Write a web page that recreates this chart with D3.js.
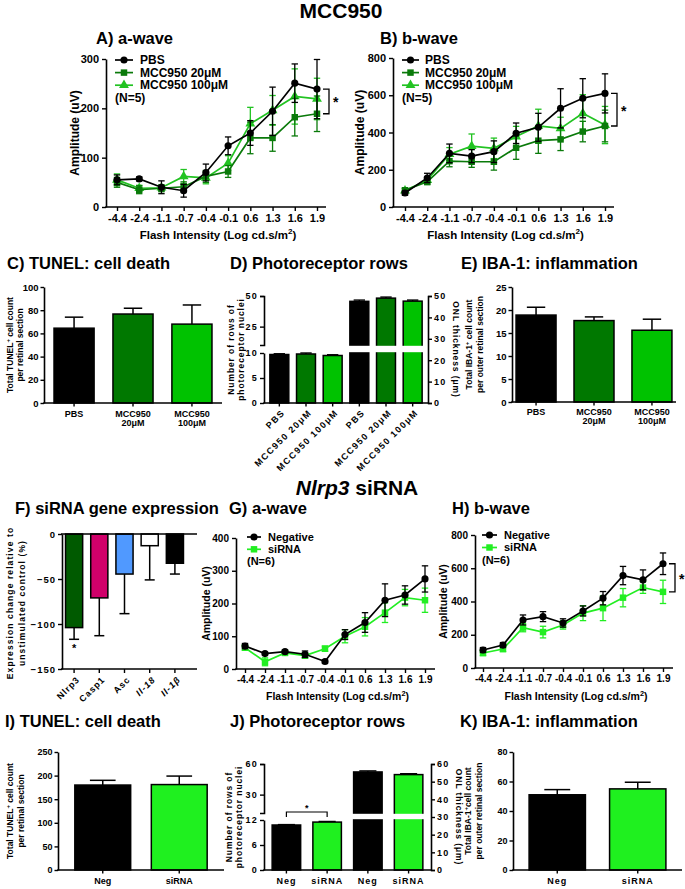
<!DOCTYPE html>
<html><head><meta charset="utf-8">
<script src="https://cdn.jsdelivr.net/npm/d3@7"></script>
<style>
body{margin:0;background:#fff;}
svg{display:block;font-family:"Liberation Sans",Arial,Helvetica,sans-serif;}
</style></head><body>
<svg id="c" width="685" height="889"></svg>
<script>
// ---------------- DATA ----------------
const intensities = ["-4.4","-2.4","-1.1","-0.7","-0.4","-0.1","0.6","1.3","1.6","1.9"];
// A) a-wave (MCC950)
const aPBS = [55,57,40,33,70,124,150,194,251,239];
const aPBSErr = [10,4,13,13,17,18,25,49,39,60];
const aM20 = [50,35,38,41,62,72,140,140,182,189];
const aM20Err = [10,8,7,10,12,12,32,27,38,36];
const aM100 = [55,38,39,62,59,89,169,196,224,219];
const aM100Err = [12,6,5,14,12,15,33,30,56,42];
const aTicks = [0,100,200,300];
// B) b-wave (MCC950)
const bPBS = [75,156,288,273,297,396,428,530,584,610];
const bPBSErr = [12,25,50,35,58,55,75,105,105,105];
const bM20 = [90,135,246,243,243,318,356,363,405,435];
const bM20Err = [10,15,30,30,45,62,68,60,55,85];
const bM100 = [88,144,284,327,315,378,435,422,503,440];
const bM100Err = [10,15,35,65,55,55,90,60,100,100];
const bTicks = [0,200,400,600,800];
// C) TUNEL
const mccCats = ["PBS","MCC950\n20\u03bcM","MCC950\n100\u03bcM"];
const tunelVals = [64.5,76.7,68];
const tunelErr = [9.5,5,16.5];
const tunelTicks = [0,20,40,60,80,100];
// D) Photoreceptor rows
const dCats = ["PBS","MCC950 20\u03bcM","MCC950 100\u03bcM","PBS","MCC950 20\u03bcM","MCC950 100\u03bcM"];
const rowsVals = [9.7,9.8,9.5];
const rowsErr = [0.15,0.2,0.15];
const onlVals = [47.5,49,47.6];
const onlErr = [0.6,0.5,0.5];
const dTopTicks = [25,50];
const dBotTicks = [0,5,10];
const dRightTicks = [0,10,20,30,40,50];
// E) IBA-1
const ibaVals = [18.9,17.7,15.6];
const ibaErr = [1.7,0.8,2.4];
const ibaTicks = [0,5,10,15,20,25];
// F) siRNA gene expression
const genes = ["Nlrp3","Casp1","Asc","Il-18","Il-1\u03b2"];
const geneVals = [-104,-71,-44.5,-13,-32.5];
const geneErr = [13,42,44,38,12];
const geneTicks = [0,-50,-100,-150];
// G) a-wave (siRNA)
const gNeg = [70,47,53,45,23,105,142,210,226,275];
const gNegErr = [8,4,5,10,5,15,30,50,28,40];
const gSi = [65,22,49,41,62,100,129,172,218,210];
const gSiErr = [8,12,6,8,8,20,28,30,25,37];
const gTicks = [0,100,200,300,400];
// H) b-wave (siRNA)
const hNeg = [108,138,289,309,271,343,420,556,530,627];
const hNegErr = [15,15,30,30,25,30,40,55,60,65];
const hSi = [90,114,243,216,259,330,360,423,484,458];
const hSiErr = [15,15,25,35,25,45,75,55,35,70];
const hTicks = [0,200,400,600,800];
// I) TUNEL (siRNA)
const sirCats = ["Neg","siRNA"];
const iVals = [180,181];
const iErr = [10,18];
const iTicks = [0,50,100,150,200,250];
// J) Photoreceptor rows (siRNA)
const jCats = ["Neg","siRNA","Neg","siRNA"];
const jRows = [10.8,11.5];
const jRowsErr = [0.1,0.15];
const jOnl = [55.5,54];
const jOnlErr = [0.6,0.5];
const jTopTicks = [30,60];
const jBotTicks = [0,6,12];
const jRightTicks = [0,10,20,30,40,50,60];
// K) IBA-1 (siRNA)
const kVals = [51,55];
const kErr = [3.5,4.5];
const kTicks = [0,20,40,60,80];

// ---------------- COLOURS ----------------
const cBlack = "#000000", cDark = "#0a7a0a", cLight = "#22c322", cSi = "#22ee22";
const cDarkBar = "#007800", cLightBar = "#00c200", cSiBar = "#1ff01f";
const geneColors = ["#005a00","#d0006a","#5099ff","#ffffff","#000000"];

// ---------------- HELPERS ----------------
const svg = d3.select("#c");
function txt(g, x, y, s, fs, o = {}) {
  const t = g.append("text").style("font-size", fs + "px")
    .style("font-weight", o.weight || "bold").attr("text-anchor", o.anchor || "start").attr("fill", "#000");
  if (o.rot != null) t.attr("transform", `translate(${x},${y}) rotate(${o.rot})`);
  else t.attr("x", x).attr("y", y);
  if (o.ls) t.style("letter-spacing", o.ls + "px");
  if (o.italic) t.style("font-style", "italic");
  if (o.dy) t.attr("dy", o.dy);
  t.text(s);
  return t;
}
function sup(t, s, fs) {
  t.append("tspan").attr("dy", -fs * 0.4).style("font-size", (fs * 0.7) + "px").text(s);
}
function styleAxis(sel, fs, ls) {
  sel.selectAll("path.domain").attr("stroke", "#000").attr("stroke-width", 1.6);
  sel.selectAll(".tick line").attr("stroke", "#000").attr("stroke-width", 1.4);
  sel.selectAll(".tick text").attr("fill", "#000").style("font-size", fs + "px")
    .style("font-weight", "bold").style("font-family", "'Liberation Sans',Arial,sans-serif")
    .style("letter-spacing", (ls || 0) + "px");
}
function hline(g, x1, x2, y, w) {
  g.append("line").attr("x1", x1).attr("x2", x2).attr("y1", y).attr("y2", y).attr("stroke", "#000").attr("stroke-width", w || 1.6);
}
function vline(g, x, y1, y2, w, col) {
  g.append("line").attr("x1", x).attr("x2", x).attr("y1", y1).attr("y2", y2).attr("stroke", col || "#000").attr("stroke-width", w || 1.6);
}
const symType = { circle: d3.symbolCircle, square: d3.symbolSquare, triangle: d3.symbolTriangle };
const symSize = { circle: 40, square: 42, triangle: 42 };

function linePanel(o) {
  const g = svg.append("g");
  const x = d3.scalePoint().domain(intensities).range([o.cat0, o.cat1]);
  const y = d3.scaleLinear().domain([0, o.yMax]).range([o.yBot, o.yTop]);
  const ya = g.append("g").attr("transform", `translate(${o.axisX},0)`)
    .call(d3.axisLeft(y).tickValues(o.yTicks).tickSize(4).tickSizeOuter(0).tickPadding(3));
  styleAxis(ya, o.fs);
  const xa = g.append("g").attr("transform", `translate(0,${o.yBot})`)
    .call(d3.axisBottom(x).tickSize(4).tickPadding(3));
  xa.select("path.domain").remove();
  styleAxis(xa, o.fs);
  hline(g, o.axisX - 0.8, o.axisEnd, o.yBot);
  // x title
  const t = txt(g, (o.axisX + o.axisEnd) / 2 + 2, o.xTitleY, "Flash Intensity (Log cd.s/m", o.tfs, { anchor: "middle" });
  t.append("tspan").attr("dy", -o.tfs * 0.4).style("font-size", (o.tfs * 0.7) + "px").text("2");
  t.append("tspan").attr("dy", o.tfs * 0.4).text(")");
  // y title
  txt(g, o.yLabX, (o.yTop + o.yBot) / 2, "Amplitude (uV)", o.yfs, { anchor: "middle", rot: -90, dy: "0.35em" });
  // series
  o.series.slice().reverse().forEach(s => {
    const eg = g.append("g").attr("stroke", s.color).attr("stroke-width", 1.3);
    s.vals.forEach((v, i) => {
      const cx = x(intensities[i]), e = s.errs[i];
      eg.append("line").attr("x1", cx).attr("x2", cx).attr("y1", y(v - e)).attr("y2", y(v + e));
      [v - e, v + e].forEach(w => eg.append("line").attr("x1", cx - 3.2).attr("x2", cx + 3.2).attr("y1", y(w)).attr("y2", y(w)));
    });
    g.append("path").datum(s.vals)
      .attr("d", d3.line().x((d, i) => x(intensities[i])).y(d => y(d)))
      .attr("fill", "none").attr("stroke", s.color).attr("stroke-width", 1.7);
    g.selectAll(null).data(s.vals).enter().append("path")
      .attr("transform", (d, i) => `translate(${x(intensities[i])},${y(d)})`)
      .attr("d", d3.symbol().type(symType[s.marker]).size(symSize[s.marker])).attr("fill", s.color);
  });
  // legend
  o.series.forEach((s, i) => {
    const ly = o.leg.y0 + i * o.leg.dy;
    g.append("line").attr("x1", o.leg.x0).attr("x2", o.leg.x1).attr("y1", ly).attr("y2", ly).attr("stroke", s.color).attr("stroke-width", 1.7);
    g.append("path").attr("transform", `translate(${(o.leg.x0 + o.leg.x1) / 2},${ly})`)
      .attr("d", d3.symbol().type(symType[s.marker]).size(symSize[s.marker])).attr("fill", s.color);
    txt(g, o.leg.tx, ly, s.name, o.lfs, { dy: "0.35em" });
  });
  txt(g, o.leg.x0, o.leg.y0 + o.series.length * o.leg.dy, o.nText, o.lfs, { dy: "0.35em" });
  // significance bracket between series a and b at last point
  if (o.br) {
    const last = intensities.length - 1;
    const y1 = y(o.series[o.br.a].vals[last]), y2 = y(o.series[o.br.b].vals[last]);
    g.append("path").attr("d", `M${o.br.x - 6},${y1}H${o.br.x}V${y2}H${o.br.x - 6}`)
      .attr("fill", "none").attr("stroke", "#000").attr("stroke-width", 1.3);
    txt(g, o.br.x + 4, (y1 + y2) / 2 + 6, "*", 14, {});
  }
  return g;
}

function barPanel(o) {
  const g = svg.append("g");
  const x = d3.scaleBand().domain(o.cats.map((c, i) => i)).range(o.xr).paddingInner(o.pi).paddingOuter(o.po);
  const y = d3.scaleLinear().domain([0, o.yMax]).range([o.yBot, o.yTop]);
  const bw = x.bandwidth();
  o.vals.forEach((v, i) => {
    const cx = x(i) + bw / 2, e = o.errs[i], cw = bw * 0.23;
    vline(g, cx, y(v), y(v + e), 1.5);
    hline(g, cx - cw, cx + cw, y(v + e), 1.5);
  });
  g.selectAll(null).data(o.vals).enter().append("rect")
    .attr("x", (d, i) => x(i)).attr("width", bw).attr("y", d => y(d)).attr("height", d => o.yBot - y(d))
    .attr("fill", (d, i) => o.colors[i]).attr("stroke", "#000").attr("stroke-width", 1.5);
  const ya = g.append("g").attr("transform", `translate(${o.xr[0]},0)`)
    .call(d3.axisLeft(y).tickValues(o.yTicks).tickSize(3.5).tickSizeOuter(0).tickPadding(2));
  styleAxis(ya, o.fs);
  hline(g, o.xr[0] - 0.8, o.xr[1], o.yBot);
  o.cats.forEach((c, i) => {
    const cx = x(i) + bw / 2;
    vline(g, cx, o.yBot, o.yBot + 3.5, 1.4);
    c.split("\n").forEach((l, j) => txt(g, cx, o.labY + j * 8.5, l, o.labFs, { anchor: "middle", ls: o.labLs || 0 }));
  });
  o.yLab.forEach((l, j) => {
    const t = txt(g, o.yLabX[j], (o.yTop + o.yBot) / 2, l[0], o.yLabFs, { anchor: "middle", rot: -90, dy: "0.35em" });
    if (l[1]) { sup(t, l[1], o.yLabFs); t.append("tspan").attr("dy", o.yLabFs * 0.4).text(l[2]); }
  });
  return g;
}

// split-axis photoreceptor panel (D and J)
function splitPanel(o) {
  const g = svg.append("g");
  const x = d3.scaleBand().domain(o.cats.map((c, i) => i)).range(o.xr).paddingInner(o.pi).paddingOuter(o.po);
  const bw = x.bandwidth();
  const yTop = d3.scaleLinear().domain(o.topDom).range(o.topRange);
  const yBot = d3.scaleLinear().domain(o.botDom).range(o.botRange);
  const yR = d3.scaleLinear().domain(o.rDom).range([o.botRange[0], o.rTop]);
  const n = o.rows.length;
  const bars = [];
  o.rows.forEach((v, i) => bars.push({ i, y: yBot(v), ye: yBot(v + o.rowsErr[i]), c: o.colors[i] }));
  o.onl.forEach((v, i) => bars.push({ i: i + n, y: yR(v), ye: yR(v + o.onlErr[i]), c: o.colors[i] }));
  bars.forEach(b => {
    const cx = x(b.i) + bw / 2;
    vline(g, cx, b.y, b.ye, 1.4);
    hline(g, cx - bw * 0.3, cx + bw * 0.3, b.ye, 1.4);
  });
  g.selectAll(null).data(bars).enter().append("rect")
    .attr("x", d => x(d.i)).attr("width", bw).attr("y", d => d.y).attr("height", d => o.botRange[0] - d.y)
    .attr("fill", d => d.c).attr("stroke", "#000").attr("stroke-width", 1.5);
  // white break band over the right-axis bars
  g.append("rect").attr("x", x(n) - 2).attr("width", x(2 * n - 1) + bw - x(n) + 4)
    .attr("y", o.topRange[0] + 0.8).attr("height", o.botRange[1] - o.topRange[0] - 1.6).attr("fill", "#fff");
  const a1 = g.append("g").attr("transform", `translate(${o.xr[0]},0)`)
    .call(d3.axisLeft(yTop).tickValues(o.topTicks).tickSize(4).tickSizeOuter(4).tickPadding(2));
  styleAxis(a1, o.fs, 1.2);
  const a2 = g.append("g").attr("transform", `translate(${o.xr[0]},0)`)
    .call(d3.axisLeft(yBot).tickValues(o.botTicks).tickSize(4).tickSizeOuter(0).tickPadding(2));
  styleAxis(a2, o.fs, 1.2);
  const a3 = g.append("g").attr("transform", `translate(${o.xr[1]},0)`)
    .call(d3.axisRight(yR).tickValues(o.rTicks).tickSize(4).tickSizeOuter(4).tickPadding(2));
  styleAxis(a3, o.fs, 1.2);
  hline(g, o.xr[0] - 0.8, o.xr[1] + 0.8, o.botRange[0]);
  o.cats.forEach((c, i) => {
    const cx = x(i) + bw / 2;
    vline(g, cx, o.botRange[0], o.botRange[0] + 3.5, 1.4);
    if (o.rotLabels) txt(g, cx + 3, o.botRange[0] + 7, c, o.labFs, { anchor: "end", rot: -45, ls: 1.4, dy: "0.5em" });
    else txt(g, cx, o.labY, c, o.labFs, { anchor: "middle", ls: 1 });
  });
  const yc = (o.rTop + o.botRange[0]) / 2;
  txt(g, o.yLabX[0], yc, "Number of rows of", o.yLabFs, { anchor: "middle", rot: -90, dy: "0.35em", ls: 0.9 });
  txt(g, o.yLabX[1], yc, "photoreceptor nuclei", o.yLabFs, { anchor: "middle", rot: -90, dy: "0.35em", ls: 0.9 });
  txt(g, o.rLabX, yc, "ONL thickness (\u03bcm)", o.yLabFs, { anchor: "middle", rot: 90, dy: "0.35em", ls: 0.9 });
  if (o.sig) {
    const x1 = x(0) + bw / 2, x2 = x(1) + bw / 2, yy = o.sig;
    g.append("path").attr("d", `M${x1},${yy + 5}V${yy}H${x2}V${yy + 5}`).attr("fill", "none").attr("stroke", "#000").attr("stroke-width", 1.2);
    txt(g, (x1 + x2) / 2, yy - 1, "*", 9, { anchor: "middle" });
  }
  return g;
}

// ---------------- TITLES ----------------
txt(svg, 341, 18, "MCC950", 21, { anchor: "middle" });
const nt = txt(svg, 357, 495, "", 21, { anchor: "middle" });
nt.append("tspan").style("font-style", "italic").text("Nlrp3");
nt.append("tspan").text(" siRNA");
[["A) a-wave", 96, 44], ["B) b-wave", 380, 44], ["C) TUNEL: cell death", 7, 269], ["D) Photoreceptor rows", 230, 269],
 ["E) IBA-1: inflammation", 461, 269], ["F) siRNA gene expression", 15, 514], ["G) a-wave", 229, 514], ["H) b-wave", 452, 514],
 ["I) TUNEL: cell death", 5, 727], ["J) Photoreceptor rows", 230, 727], ["K) IBA-1: inflammation", 460, 727]]
  .forEach(d => txt(svg, d[1], d[2], d[0], 16.5, {}));

// ---------------- PANELS ----------------
linePanel({
  axisX: 106, axisEnd: 326, cat0: 117, cat1: 317, yTop: 59, yBot: 207, yMax: 300, yTicks: aTicks,
  fs: 11, tfs: 11.5, yfs: 12, lfs: 12, xTitleY: 239, yLabX: 75,
  series: [
    { name: "PBS", vals: aPBS, errs: aPBSErr, color: cBlack, marker: "circle" },
    { name: "MCC950 20\u03bcM", vals: aM20, errs: aM20Err, color: cDark, marker: "square" },
    { name: "MCC950 100\u03bcM", vals: aM100, errs: aM100Err, color: cLight, marker: "triangle" }],
  leg: { x0: 115, x1: 133, tx: 140, y0: 60, dy: 12.6 }, nText: "(N=5)",
  br: { x: 329, a: 0, b: 1 }
});
linePanel({
  axisX: 393, axisEnd: 614, cat0: 405, cat1: 605, yTop: 58, yBot: 207, yMax: 800, yTicks: bTicks,
  fs: 11, tfs: 11.5, yfs: 12, lfs: 12, xTitleY: 239, yLabX: 360,
  series: [
    { name: "PBS", vals: bPBS, errs: bPBSErr, color: cBlack, marker: "circle" },
    { name: "MCC950 20\u03bcM", vals: bM20, errs: bM20Err, color: cDark, marker: "square" },
    { name: "MCC950 100\u03bcM", vals: bM100, errs: bM100Err, color: cLight, marker: "triangle" }],
  leg: { x0: 402, x1: 419, tx: 425, y0: 60, dy: 12.6 }, nText: "(N=5)",
  br: { x: 617, a: 0, b: 1 }
});
barPanel({
  cats: mccCats, vals: tunelVals, errs: tunelErr, colors: [cBlack, cDarkBar, cLightBar],
  xr: [44, 222], pi: 0.32, po: 0.17, yTop: 287, yBot: 403, yMax: 100, yTicks: tunelTicks,
  fs: 9.5, labY: 417, labFs: 9, yLabFs: 8.5, yLabX: [10, 20],
  yLab: [["Total TUNEL", "+", " cell count"], ["per retinal section"]]
});
splitPanel({
  cats: dCats, rows: rowsVals, rowsErr: rowsErr, onl: onlVals, onlErr: onlErr, colors: [cBlack, cDarkBar, cLightBar],
  xr: [264, 428], pi: 0.29, po: 0.22,
  topDom: [10, 50], topRange: [345, 296], botDom: [0, 10], botRange: [403, 353], rDom: [0, 50], rTop: 296,
  topTicks: dTopTicks, botTicks: dBotTicks, rTicks: dRightTicks, fs: 9, labFs: 9, rotLabels: true,
  yLabFs: 8.5, yLabX: [231, 241], rLabX: 456
});
barPanel({
  cats: mccCats, vals: ibaVals, errs: ibaErr, colors: [cBlack, cDarkBar, cLightBar],
  xr: [512, 676], pi: 0.31, po: 0.07, yTop: 287, yBot: 402, yMax: 25, yTicks: ibaTicks,
  fs: 9.5, labY: 415, labFs: 9, yLabFs: 8.5, yLabX: [469, 480],
  yLab: [["Total IBA-1", "+", " cell count"], ["per outer retinal section"]]
});

// F) gene expression (negative bars)
(function () {
  const g = svg.append("g");
  const x = d3.scaleBand().domain(genes).range([62, 187]).paddingInner(0.32).paddingOuter(0.14);
  const y = d3.scaleLinear().domain([-150, 0]).range([669, 534]);
  const bw = x.bandwidth();
  genes.forEach((gn, i) => {
    const cx = x(gn) + bw / 2, v = geneVals[i], e = geneErr[i];
    vline(g, cx, y(v), y(v - e), 1.5);
    hline(g, cx - 5, cx + 5, y(v - e), 1.5);
  });
  g.selectAll(null).data(genes).enter().append("rect")
    .attr("x", d => x(d)).attr("width", bw).attr("y", y(0)).attr("height", (d, i) => y(geneVals[i]) - y(0))
    .attr("fill", (d, i) => geneColors[i]).attr("stroke", "#000").attr("stroke-width", 1.5);
  const ya = g.append("g").attr("transform", "translate(62,0)")
    .call(d3.axisLeft(y).tickValues(geneTicks).tickSize(4).tickSizeOuter(0).tickPadding(2));
  styleAxis(ya, 9.5, 1);
  hline(g, 61, 197, 534);
  hline(g, 61, 197, 669);
  genes.forEach((gn, i) => {
    const cx = x(gn) + bw / 2;
    vline(g, cx, 669, 673, 1.4);
    txt(g, cx + 3, 677, gn, 9, { anchor: "end", rot: -45, ls: 1, dy: "0.5em", italic: i >= 3 });
  });
  txt(g, x(genes[0]) + bw / 2, 652, "*", 11, { anchor: "middle" });
  txt(g, 10, 603, "Expression change relative to", 8.5, { anchor: "middle", rot: -90, dy: "0.35em", ls: 1.1 });
  txt(g, 22, 603, "unstimulated control (%)", 8.5, { anchor: "middle", rot: -90, dy: "0.35em", ls: 1.1 });
})();

linePanel({
  axisX: 236, axisEnd: 435, cat0: 245, cat1: 425, yTop: 538, yBot: 669, yMax: 400, yTicks: gTicks,
  fs: 10, tfs: 10.5, yfs: 10.5, lfs: 11, xTitleY: 700, yLabX: 206,
  series: [
    { name: "Negative", vals: gNeg, errs: gNegErr, color: cBlack, marker: "circle" },
    { name: "siRNA", vals: gSi, errs: gSiErr, color: cSi, marker: "square" }],
  leg: { x0: 247, x1: 261, tx: 268, y0: 537, dy: 12.3 }, nText: "(N=6)"
});
linePanel({
  axisX: 475, axisEnd: 673, cat0: 483, cat1: 663, yTop: 535, yBot: 668, yMax: 800, yTicks: hTicks,
  fs: 10, tfs: 10.5, yfs: 10.5, lfs: 11, xTitleY: 700, yLabX: 443,
  series: [
    { name: "Negative", vals: hNeg, errs: hNegErr, color: cBlack, marker: "circle" },
    { name: "siRNA", vals: hSi, errs: hSiErr, color: cSi, marker: "square" }],
  leg: { x0: 482, x1: 497, tx: 504, y0: 535, dy: 12.5 }, nText: "(N=6)",
  br: { x: 675, a: 0, b: 1 }
});

barPanel({
  cats: sirCats, vals: iVals, errs: iErr, colors: [cBlack, cSiBar],
  xr: [58, 224], pi: 0.27, po: 0.22, yTop: 752, yBot: 870, yMax: 250, yTicks: iTicks,
  fs: 9, labY: 884, labFs: 9, yLabFs: 8.5, yLabX: [10, 21],
  yLab: [["Total TUNEL", "+", " cell count"], ["per retinal section"]]
});
splitPanel({
  cats: jCats, rows: jRows, rowsErr: jRowsErr, onl: jOnl, onlErr: jOnlErr, colors: [cBlack, cSiBar],
  xr: [264, 431], pi: 0.3, po: 0.2,
  topDom: [12, 60], topRange: [813, 764], botDom: [0, 12], botRange: [870, 820], rDom: [0, 60], rTop: 764,
  topTicks: jTopTicks, botTicks: jBotTicks, rTicks: jRightTicks, fs: 9, labFs: 9, rotLabels: false, labY: 884,
  yLabFs: 8.5, yLabX: [229, 239], rLabX: 459, sig: 812
});
barPanel({
  cats: sirCats, vals: kVals, errs: kErr, colors: [cBlack, cSiBar],
  xr: [513, 682], pi: 0.3, po: 0.2, yTop: 752, yBot: 870, yMax: 80, yTicks: kTicks,
  fs: 9, labY: 884, labFs: 9, labLs: 1, yLabFs: 8.5, yLabX: [468, 479],
  yLab: [["Total IBA-1", "+", "cell count"], ["per outer retinal section"]]
});
</script>
</body></html>
